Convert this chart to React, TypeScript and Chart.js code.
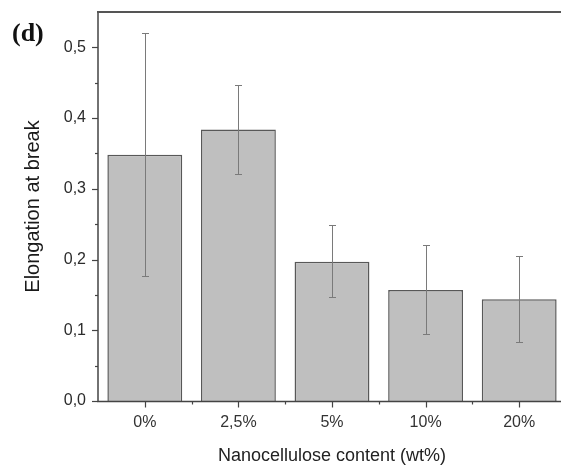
import React, { useEffect, useRef } from 'react';
import { Chart, registerables } from 'chart.js';

Chart.register(...registerables);

const categories = ['0%', '2,5%', '5%', '10%', '20%'];
const elongation = [0.348, 0.384, 0.197, 0.157, 0.144];
const errorLow = [0.177, 0.321, 0.147, 0.095, 0.083];
const errorHigh = [0.52, 0.447, 0.249, 0.22, 0.205];
const yMin = 0;
const yMax = 0.55;
const yMajorStep = 0.1;
const yMinorStep = 0.05;

const SANS = '"Liberation Sans", Arial, sans-serif';
const AXIS = '#444444';

const decorPlugin = {
  id: 'decor',
  afterDatasetsDraw(chart: any) {
    const { ctx, chartArea, scales } = chart;
    const x = scales.x;
    const y = scales.y;
    ctx.save();
    // error bars
    ctx.strokeStyle = '#7a7a7a';
    ctx.lineWidth = 1;
    elongation.forEach((_, i) => {
      const px = Math.round(x.getPixelForValue(i)) + 0.5;
      const yl = Math.round(y.getPixelForValue(errorLow[i])) + 0.5;
      const yh = Math.round(y.getPixelForValue(errorHigh[i])) + 0.5;
      ctx.beginPath();
      ctx.moveTo(px, yl);
      ctx.lineTo(px, yh);
      ctx.moveTo(px - 3.5, yl);
      ctx.lineTo(px + 3.5, yl);
      ctx.moveTo(px - 3.5, yh);
      ctx.lineTo(px + 3.5, yh);
      ctx.stroke();
    });
    // axes
    ctx.strokeStyle = AXIS;
    ctx.lineWidth = 1.5;
    const left = chartArea.left;
    const bottom = Math.round(y.getPixelForValue(yMin)) + 0.5;
    const top = chartArea.top;
    ctx.beginPath();
    ctx.moveTo(left, top);
    ctx.lineTo(left, bottom);
    ctx.lineTo(chartArea.right, bottom);
    ctx.stroke();
    ctx.lineWidth = 2;
    ctx.strokeStyle = '#555555';
    ctx.beginPath();
    ctx.moveTo(left - 1, top);
    ctx.lineTo(chart.width, top);
    ctx.stroke();
    // y ticks
    ctx.strokeStyle = AXIS;
    ctx.lineWidth = 1.2;
    const n = Math.round((yMax - yMin) / yMinorStep);
    for (let k = 0; k < n; k++) {
      const v = yMin + k * yMinorStep;
      const major = k % Math.round(yMajorStep / yMinorStep) === 0;
      const py = Math.round(y.getPixelForValue(v)) + 0.5;
      ctx.beginPath();
      ctx.moveTo(left, py);
      ctx.lineTo(left - (major ? 6 : 3), py);
      ctx.stroke();
    }
    // x ticks
    categories.forEach((_, i) => {
      const px = Math.round(x.getPixelForValue(i)) + 0.5;
      ctx.beginPath();
      ctx.moveTo(px, bottom);
      ctx.lineTo(px, bottom + 6);
      ctx.stroke();
      if (i < categories.length - 1) {
        const mx = Math.round((x.getPixelForValue(i) + x.getPixelForValue(i + 1)) / 2) + 0.5;
        ctx.beginPath();
        ctx.moveTo(mx, bottom);
        ctx.lineTo(mx, bottom + 3);
        ctx.stroke();
      }
    });
    // panel label
    ctx.fillStyle = '#111';
    ctx.font = 'bold 26px "Liberation Serif", "Times New Roman", serif';
    ctx.textAlign = 'left';
    ctx.textBaseline = 'alphabetic';
    ctx.fillText('(d)', 12, 41);
    ctx.restore();
  },
};

export default function App() {
  const ref = useRef<HTMLCanvasElement | null>(null);
  useEffect(() => {
    if (!ref.current) return;
    const chart = new Chart(ref.current, {
      type: 'bar',
      data: {
        labels: categories,
        datasets: [
          {
            data: elongation,
            backgroundColor: '#bfbfbf',
            borderColor: '#585858',
            borderWidth: 1.5,
            barPercentage: 0.8,
            categoryPercentage: 1.0,
          },
        ],
      },
      options: {
        responsive: false,
        animation: false,
        layout: { padding: { top: 12, right: 14, left: 0, bottom: 0 } },
        plugins: { legend: { display: false }, tooltip: { enabled: false } },
        scales: {
          x: {
            type: 'category',
            offset: true,
            grid: { display: false, drawTicks: false },
            border: { display: false },
            ticks: {
              color: '#333',
              font: { family: SANS, size: 16 },
              padding: 12,
              maxRotation: 0,
              autoSkip: false,
            },
            title: {
              display: true,
              text: 'Nanocellulose content (wt%)',
              color: '#222',
              font: { family: SANS, size: 18 },
              padding: { top: 0, bottom: 1 },
            },
            afterFit(s: any) {
              s.height = 67;
              s.paddingLeft = 0;
              s.paddingRight = 0;
            },
          },
          y: {
            min: yMin,
            max: yMax,
            grid: { display: false, drawTicks: false },
            border: { display: false },
            ticks: {
              stepSize: yMajorStep,
              includeBounds: false,
              color: '#2b2b2b',
              font: { family: SANS, size: 16 },
              padding: 12,
              callback: (v: any) => Number(v).toFixed(1).replace('.', ','),
            },
            title: {
              display: true,
              text: 'Elongation at break',
              color: '#1a1a1a',
              font: { family: SANS, size: 20 },
              padding: { top: 21, bottom: 0 },
            },
            afterFit(s: any) {
              s.width = 98;
              s.paddingTop = 0;
              s.paddingBottom = 0;
            },
          },
        },
      },
      plugins: [decorPlugin],
    });
    return () => chart.destroy();
  }, []);
  return (
    <div
      style={{
        position: 'fixed',
        left: 0,
        top: 0,
        width: 561,
        height: 468,
        overflow: 'hidden',
        background: '#fff',
      }}
    >
      <canvas ref={ref} width={580} height={468} style={{ display: 'block' }} />
    </div>
  );
}
